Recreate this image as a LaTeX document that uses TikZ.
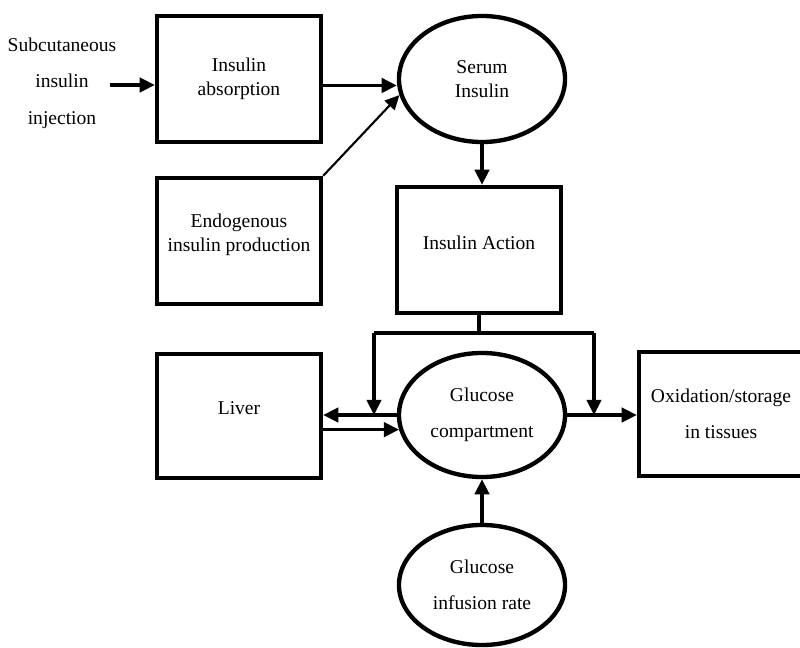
\documentclass[tikz,border=0pt]{standalone}
\usepackage{fontspec}
\setmainfont{Liberation Serif}
\usetikzlibrary{shapes.geometric,arrows.meta}
\tikzset{
  block/.style = {shape=rectangle, draw, line width=3.1pt,
                  align=center, inner sep=0pt,
                  minimum width=4.1cm, minimum height=3.15cm},
  pool/.style  = {shape=ellipse, draw, line width=3.1pt,
                  align=center, inner sep=0pt,
                  minimum width=4.15cm, minimum height=3.15cm},
  wide/.style  = {font=\fontsize{13.9}{26}\selectfont},
  flow/.style  = {line width=2.4pt,
                  -{Triangle[length=3.8mm, width=3.6mm]}},
  feed/.style  = {line width=1.5pt,
                  -{Triangle[length=3.6mm, width=3.4mm]}},
  link/.style  = {line width=2.4pt}
}
\begin{document}
\begin{tikzpicture}[x=0.025cm, y=-0.025cm,
    font=\fontsize{13.9}{17}\selectfont]
    \useasboundingbox (0,0) rectangle (800,648);
    \clip (0,0) rectangle (800,648);

    \node [align=center, wide] (subq) at (62,83)
        {Subcutaneous\\insulin\\injection};
    \node [block] (absorb) at (239,79) {Insulin\\absorption};
    \node [pool]  (serum)  at (482,79) {Serum\\Insulin};
    \node [block, text depth=12pt] (endo) at (239,241)
        {Endogenous\\insulin production};
    \node [block, text depth=10pt] (action) at (479,250) {Insulin Action};
    \node [block, text depth=11pt, minimum height=3.1cm] (liver) at (239,416)
        {Liver};
    \node [pool, wide, minimum height=3.1cm] (gluc) at (482,415)
        {Glucose\\compartment};
    \node [block, wide, minimum height=3.1cm] (oxid) at (721,414)
        {Oxidation/storage\\in tissues};
    \node [pool, wide, minimum height=3.0cm] (infus) at (482,585)
        {Glucose\\infusion rate};

    \coordinate (inj) at (110,85);
    \coordinate (brL) at (374,333);
    \coordinate (brR) at (594,333);

    \draw [flow] (inj) -- (inj -| absorb.west);
    \draw [flow] ([yshift=-4.6pt]absorb.east)
        -- ([yshift=-4.6pt]absorb.east -| serum.west);
    \draw [feed] (endo.north east) -- (serum.191);
    \draw [flow] (serum.south) -- (serum.south |- action.north);

    \draw [link] (action.south) -- (action.south |- brL);
    \draw [link] (brL) -- (brR);
    \draw [flow] (brL) -- (brL |- gluc.west);
    \draw [flow] (brR) -- (brR |- gluc.east);

    \draw [flow] (gluc.west) -- (gluc.west -| liver.east);
    \draw [flow] (liver.east |- gluc.190) -- (gluc.190);
    \draw [flow] (gluc.east) -- (gluc.east -| oxid.west);
    \draw [flow] (infus.north) -- (gluc.south);
\end{tikzpicture}
\end{document}
